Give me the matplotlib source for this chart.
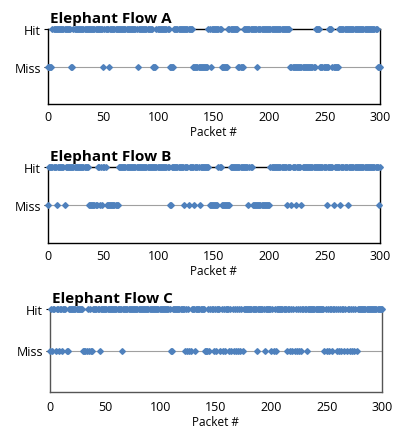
import matplotlib
matplotlib.use("Agg")
import matplotlib.pyplot as plt

plt.rcParams['font.family'] = ['Open Sans', 'DejaVu Sans']

titles = ["Elephant Flow A", "Elephant Flow B", "Elephant Flow C"]
ytick_labels = ["Miss", "Hit"]
xticks = [0, 50, 100, 150, 200, 250, 300]
packets = list(range(0, 301))

miss_a = [0, 1, 2, 3, 21, 22, 50, 55, 81, 95, 96, 97, 110, 111, 112, 113,
          131, 132, 133, 134, 135, 136, 137, 138, 139, 140, 141, 142, 143, 144,
          147, 157, 158, 159, 160, 161, 162, 172, 173, 174, 175, 176, 189,
          219, 220, 221, 222, 223, 224, 225, 226, 227, 228, 229, 230, 231, 232,
          233, 234, 235, 236, 237, 238, 239, 240, 241,
          246, 247, 248, 249, 250, 251, 252, 253, 257, 258, 259, 260, 261, 262,
          298, 299, 300]
miss_b = [0, 8, 15, 37, 38, 39, 40, 41, 42, 43, 44, 47, 49, 53, 54, 55, 56,
          57, 58, 59, 60, 61, 62, 63, 110, 111, 123, 127, 132, 137,
          146, 147, 148, 149, 150, 151, 152, 153, 157, 158, 159, 160, 161, 162,
          163, 164, 181, 185, 186, 187, 188, 189, 190, 191, 192, 193, 194, 195,
          196, 197, 198, 199, 200, 216, 220, 224, 229, 252, 258, 264, 271, 299]
miss_c = [0, 2, 5, 8, 11, 15, 16, 30, 31, 32, 33, 35, 37, 38, 45, 65, 109, 110,
          122, 124, 126, 127, 131, 140, 141, 142, 144, 148, 150, 154, 156, 158,
          162, 164, 166, 168, 170, 172, 174, 187, 194, 200, 202, 204,
          214, 217, 219, 221, 223, 225, 227, 232, 248, 250, 252, 255,
          259, 261, 263, 266, 268, 271, 273, 275, 277]
misses = [miss_a, miss_b, miss_c]

HIT, MISS = 1.0, 0.5
W, H = 394, 431
fig = plt.figure(figsize=(W / 100, H / 100), dpi=100)

# axes boxes in pixels: left, right, top, bottom
boxes = [(48, 380, 30, 105), (48, 380, 168, 244), (50, 382, 310, 393)]
spine_colors = ['black', 'black', '#555555']
blue = '#4F81BD'

for i, (box, title, miss) in enumerate(zip(boxes, titles, misses)):
    l, r, t, b = box
    ax = fig.add_axes([l / W, 1 - b / H, (r - l) / W, (b - t) / H])
    hits = [p for p in packets if p not in miss]
    ax.axhline(MISS, color='#A0A0A0', lw=0.8, zorder=1)
    ax.plot(hits, [HIT] * len(hits), ls='none', marker='D', ms=2.9,
            color=blue, mec=blue, zorder=3, clip_on=False)
    ax.plot(miss, [MISS] * len(miss), ls='none', marker='D', ms=2.9,
            color=blue, mec=blue, zorder=3, clip_on=False)
    ax.set_xlim(0, 300)
    ax.set_ylim(0, 1)
    ax.set_xticks(xticks)
    ax.set_xticklabels([str(x) for x in xticks], fontsize=9)
    ax.set_yticks([MISS, HIT])
    ax.set_yticklabels(ytick_labels, fontsize=9)
    ax.tick_params(axis='y', length=3, width=0.8, pad=2, direction='out')
    ax.tick_params(axis='x', length=0, pad=4 if i < 2 else 6)
    for s in ax.spines.values():
        s.set_color(spine_colors[i])
        s.set_linewidth(1.0)
    ax.set_xlabel("Packet #", fontsize=8.5, labelpad=1.5)
    ax.set_title(title, loc='left', fontsize=11, fontweight='bold', pad=5, x=0.005)

fig.savefig("out.png", dpi=100)
